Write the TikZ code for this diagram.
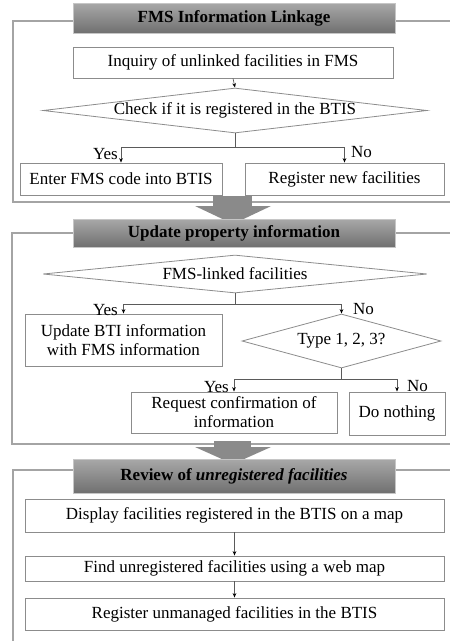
\documentclass[tikz,border=0pt]{standalone}
\usepackage{fontspec}
\setmainfont{Liberation Serif}
\usetikzlibrary{shapes.geometric,arrows.meta,calc}
\definecolor{framegray}{HTML}{A4A4A4}
\definecolor{boxgray}{HTML}{8C8C8C}
\definecolor{linegray}{HTML}{5A5A5A}
\definecolor{hdrtop}{HTML}{A8A8A8}
\definecolor{hdrbot}{HTML}{707070}
\definecolor{arrgray}{HTML}{8A8A8A}
\begin{document}
\begin{tikzpicture}[x=1pt,y=-1pt,
  txt/.style={font=\fontsize{17}{19}\selectfont},
  frame/.style={draw=framegray, line width=1.4pt},
  hdr/.style={shade, top color=hdrtop, bottom color=hdrbot, draw=gray!45, line width=0.5pt,
    minimum width=322pt, inner sep=0pt, font=\bfseries\fontsize{17}{19}\selectfont},
  box/.style={txt, draw=boxgray, line width=0.8pt, fill=white, inner sep=0pt, align=center},
  dia/.style={txt, diamond, draw=boxgray, line width=0.8pt, fill=white, inner sep=0pt},
  conn/.style={draw=linegray, line width=0.7pt},
  arr/.style={conn, -{Stealth[length=4.5pt,width=3.6pt,color=black]}},
  lbl/.style={txt, inner sep=0pt},
  bigarr/.style={fill=arrgray, draw=none}]
\useasboundingbox (0,0) rectangle (450,641);

% ---------- Section 1 ----------
\draw[frame] (13,21) rectangle (470,202);
\node[hdr, minimum height=30pt] (h1) at (234,18) {FMS Information Linkage};
\node[box, minimum width=320pt, minimum height=31pt] (b1) at (233,62.5) {Inquiry of unlinked facilities in FMS};
\node[dia, aspect=8.5, minimum width=384pt, minimum height=45pt] (d1) at (235,110.5) {Check if it is registered in the BTIS};
\node[box, minimum width=202pt, minimum height=32pt] (e1) at (121,179) {Enter FMS code into BTIS};
\node[box, minimum width=199pt, minimum height=32pt] (e2) at (344.5,179) {Register new facilities};
\coordinate (j1) at (235,147);
\draw[arr] (b1.south) -- (d1.north);
\draw[conn] (d1.south) -- (j1);
\draw[arr] (j1) -| (e1.north);
\draw[arr] (j1) -| (e2.north);
\node[lbl, anchor=east] (y1) at (118,154) {Yes};
\node[lbl, anchor=west] (n1) at (351,152) {No};

% ---------- Arrow 1 ----------
\fill[bigarr] (213,196) rectangle (252,207);
\fill[bigarr] (195,206) -- (271,206) -- (233,224) -- cycle;

% ---------- Section 2 ----------
\draw[frame] (12,233) rectangle (470,444);
\node[hdr, minimum height=28pt] (h2) at (234,233) {Update property information};
\node[dia, aspect=10, minimum width=384pt, minimum height=38pt] (d2) at (235,274) {FMS-linked facilities};
\node[box, minimum width=197pt, minimum height=52pt] (u1) at (123.5,340) {Update BTI information\\with FMS information};
\node[dia, aspect=3.7, minimum width=199pt, minimum height=54pt] (d3) at (341.5,341) {Type 1, 2, 3?};
\node[box, minimum width=206pt, minimum height=41pt] (r1) at (234,412.5) {Request confirmation of\\information};
\node[box, minimum width=96pt, minimum height=43pt] (r2) at (397,413.5) {Do nothing};
\coordinate (j2) at (235,304);
\coordinate (j3) at (341.5,379);
\draw[conn] (d2.south) -- (j2);
\draw[arr] (j2) -| (u1.north);
\draw[arr] (j2) -| (d3.north);
\draw[conn] (d3.south) -- (j3);
\draw[arr] (j3) -| (r1.north);
\draw[arr] (j3) -| (r2.north);
\node[lbl, anchor=east] (y2) at (118,310) {Yes};
\node[lbl, anchor=west] (n2) at (353,309) {No};
\node[lbl, anchor=east] (y3) at (229,387) {Yes};
\node[lbl, anchor=west] (n3) at (407,386) {No};

% ---------- Arrow 2 ----------
\fill[bigarr] (214,441) rectangle (251,448);
\fill[bigarr] (195,447) -- (271,447) -- (233,464) -- cycle;

% ---------- Section 3 ----------
\draw[frame] (13,660) |- (470,470);
\node[hdr, minimum height=34pt] (h3) at (234,476) {Review of \textit{unregistered facilities}};
\node[box, minimum width=419pt, minimum height=33pt] (s1) at (234.5,515.5) {Display facilities registered in the BTIS on a map};
\node[box, minimum width=419pt, minimum height=25pt] (s2) at (234.5,568.5) {Find unregistered facilities using a web map};
\node[box, minimum width=419pt, minimum height=32pt] (s3) at (234.5,614) {Register unmanaged facilities in the BTIS};
\draw[arr] (s1.south) -- (s2.north);
\draw[arr] (s2.south) -- (s3.north);
\end{tikzpicture}
\end{document}
